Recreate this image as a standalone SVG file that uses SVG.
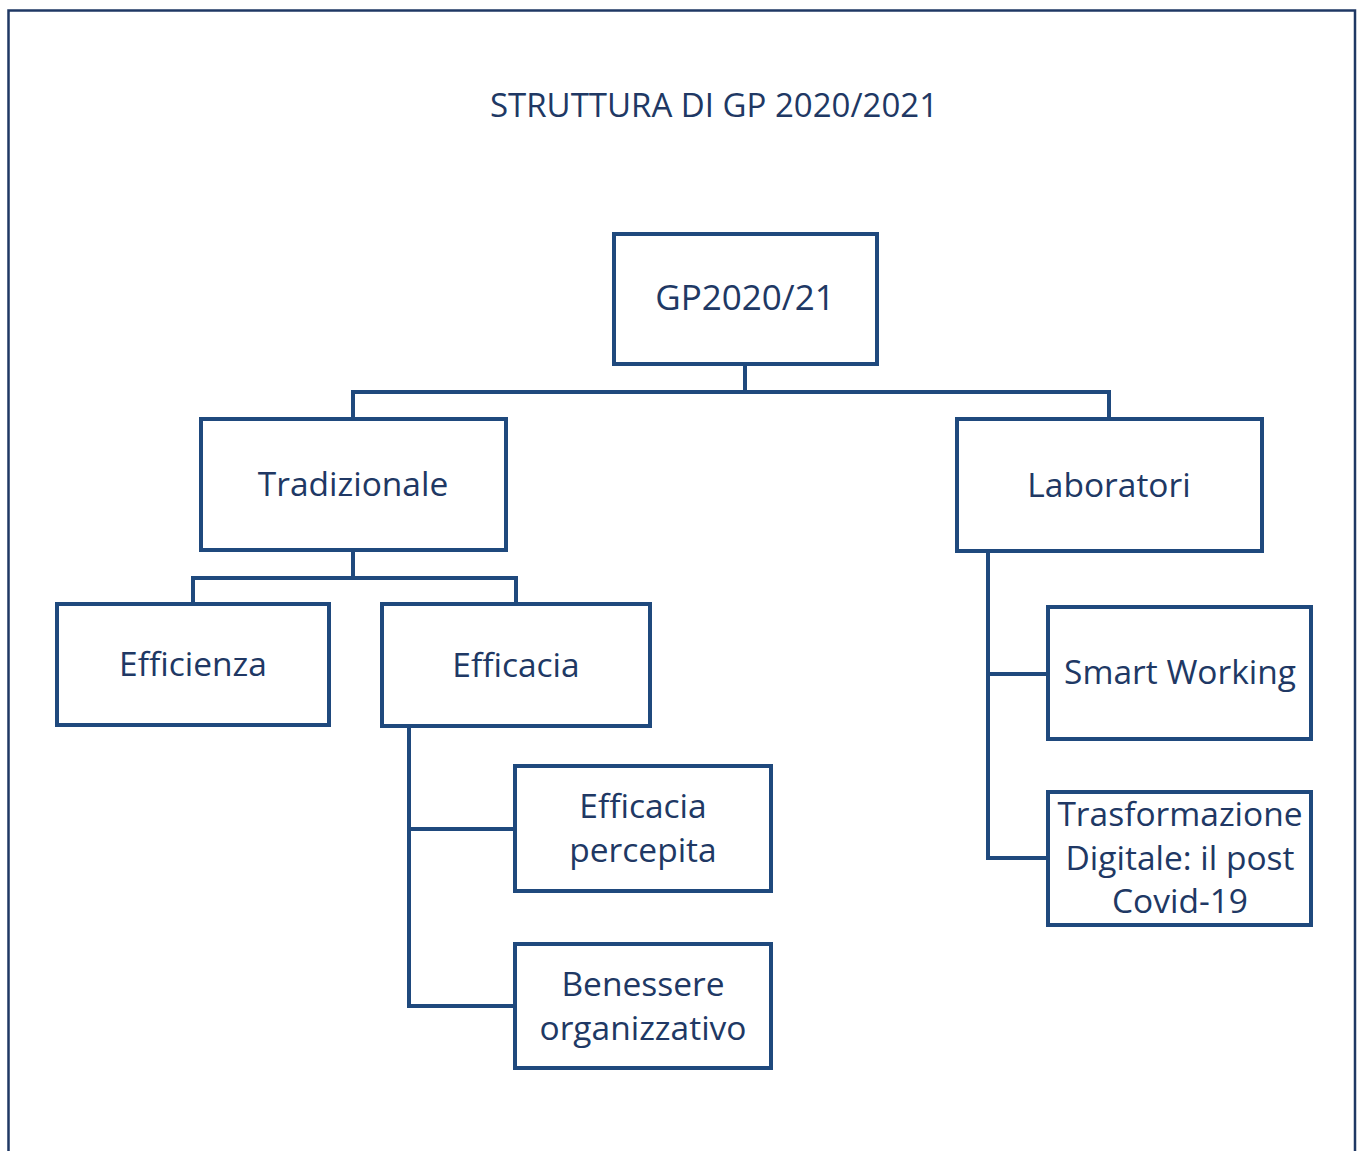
<svg xmlns="http://www.w3.org/2000/svg" width="1359" height="1151" viewBox="0 0 1359 1151">
<style>
.frame{fill:none;stroke:#1f3864;stroke-width:2.5}
.box{fill:#ffffff;stroke:#1f497d;stroke-width:4}
.conn{fill:none;stroke:#1f497d;stroke-width:4;stroke-linejoin:miter}
.t{font-family:"Open Sans","Noto Sans","Liberation Sans",sans-serif;fill:#203864;text-anchor:middle}
.n{font-size:33.5px}
.title{font-size:33px}
</style>
<rect width="1359" height="1151" fill="#ffffff"/>
<path class="frame" d="M8.5 1151 V10.5 H1355 V1151"/>
<text class="t title" x="714" y="117">STRUTTURA DI GP 2020/2021</text>
<g id="connectors">
<path class="conn" d="M745 364 V392 M353 419 V392 H1109 V419"/>
<path class="conn" d="M353 550 V578 M193 604 V578 H516 V604"/>
<path class="conn" d="M409 726 V1006 H515 M409 829 H515"/>
<path class="conn" d="M988 551 V858 H1048 M988 674 H1048"/>
</g>
<g id="gp"><rect class="box" x="614" y="234" width="263" height="130"/><text class="t" style="font-size:35px;font-weight:500" x="745" y="310">GP2020/21</text></g>
<g id="tradizionale"><rect class="box" x="201" y="419" width="305" height="131"/><text class="t n" x="353" y="496">Tradizionale</text></g>
<g id="laboratori"><rect class="box" x="957" y="419" width="305" height="132"/><text class="t n" x="1109" y="497">Laboratori</text></g>
<g id="efficienza"><rect class="box" x="57" y="604" width="272" height="121"/><text class="t n" x="193" y="676">Efficienza</text></g>
<g id="efficacia"><rect class="box" x="382" y="604" width="268" height="122"/><text class="t n" x="516" y="677">Efficacia</text></g>
<g id="efficacia-percepita"><rect class="box" x="515" y="766" width="256" height="125"/><text class="t n" x="643" y="818">Efficacia</text><text class="t n" x="643" y="862">percepita</text></g>
<g id="benessere"><rect class="box" x="515" y="944" width="256" height="124"/><text class="t n" x="643" y="996">Benessere</text><text class="t n" x="643" y="1040">organizzativo</text></g>
<g id="smart-working"><rect class="box" x="1048" y="607" width="263" height="132"/><text class="t n" x="1180" y="684">Smart Working</text></g>
<g id="trasformazione"><rect class="box" x="1048" y="792" width="263" height="133"/><text class="t n" x="1180" y="826">Trasformazione</text><text class="t n" x="1180" y="870">Digitale: il post</text><text class="t n" x="1180" y="913">Covid-19</text></g>
</svg>
